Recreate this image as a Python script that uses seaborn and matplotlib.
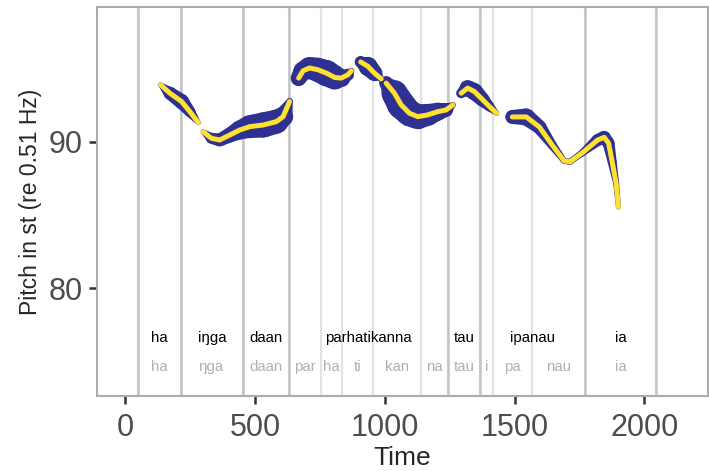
import numpy as np
import pandas as pd
import matplotlib.pyplot as plt
import seaborn as sns
from matplotlib.patches import Polygon
from matplotlib.transforms import IdentityTransform

# ==========================================
# DATA
# ==========================================

# pitch track (time in ms, pitch in st)
seg = [1] * 5 + [2] * 10 + [3] * 9 + [4] * 4 + [5] * 9 + [6] * 6 + [7] * 13
time = [136, 172, 217, 249, 281,
        300, 332, 364, 403, 441, 480, 531, 582, 608, 633,
        668, 685, 710, 742, 775, 807, 832, 858, 871,
        907, 935, 960, 986,
        1005, 1037, 1063, 1095, 1127, 1165, 1204, 1236, 1262,
        1294, 1319, 1345, 1377, 1403, 1431,
        1491, 1545, 1595, 1645, 1690, 1712, 1760, 1820, 1845, 1862, 1876, 1891, 1900]
pitch = [93.88, 93.31, 92.74, 92.05, 91.30,
         90.68, 90.23, 90.12, 90.46, 90.80, 91.03, 91.14, 91.37, 91.71, 92.74,
         94.34, 94.84, 95.03, 94.91, 94.68, 94.38, 94.34, 94.57, 94.84,
         95.44, 95.14, 94.68, 94.29,
         94.00, 93.31, 92.51, 91.94, 91.71, 91.83, 92.05, 92.17, 92.51,
         93.31, 93.66, 93.42, 92.86, 92.40, 91.94,
         91.69, 91.69, 91.01, 89.77, 88.70, 88.62, 89.23, 90.12, 90.30, 89.90,
         88.61, 87.17, 85.55]
intensity = [5, 13, 15, 11, 5,
             5, 11, 13, 15, 19, 23, 25, 24, 20, 7,
             16, 19, 22, 24, 26, 24, 18, 12, 6,
             12, 19, 16, 6,
             14, 26, 28, 26, 25, 22, 18, 14, 6,
             10, 16, 17, 14, 10, 5,
             14, 17, 14, 9, 6, 6, 7, 12, 13, 12, 9, 6, 5]

# word and syllable boundaries (ms)
words = ["ha", "iŋga", "daan", "parhatikanna", "tau", "ipanau", "ia"]
word_bounds = [49, 215, 453, 631, 1243, 1366, 1771, 2045]
syllables = ["ha", "ŋga", "daan", "par", "ha", "ti", "kan", "na",
             "tau", "i", "pa", "nau", "ia"]
syll_bounds = [49, 215, 453, 631, 753, 834, 954, 1139, 1243,
               1366, 1416, 1567, 1771, 2045]

df = pd.DataFrame({"seg": seg, "time": time, "pitch": pitch, "intensity": intensity})

# ==========================================
# STYLE
# ==========================================

BLUE = "#2E3192"
YELLOW = "#FDE030"
DPI = 100

sns.set_theme(style="white")
plt.rcParams["font.family"] = ["Liberation Sans", "DejaVu Sans"]

fig = plt.figure(figsize=(7.09, 4.71), dpi=DPI)
ax = fig.add_axes([0.1368, 0.1592, 0.8618, 0.8259])
ax.set_xlim(-109, 2245)
ax.set_ylim(72.65, 99.19)

# ==========================================
# BOUNDARIES + LABELS
# ==========================================

for b in syll_bounds:
    ax.axvline(b, color="#E3E3E3", lw=1.6, zorder=1)
for b in word_bounds:
    ax.axvline(b, color="#C4C4C4", lw=1.8, zorder=1)

for i, w in enumerate(words):
    mid = (word_bounds[i] + word_bounds[i + 1]) / 2
    ax.text(mid, 76.6, w, ha="center", va="center", fontsize=10.8, color="black")
for i, s in enumerate(syllables):
    mid = (syll_bounds[i] + syll_bounds[i + 1]) / 2
    ax.text(mid, 74.65, s, ha="center", va="center", fontsize=10.8, color="#B0B0B0")

# ==========================================
# PITCH TRACK (blue: width ~ intensity, yellow: f0 line)
# ==========================================

def width_px(v):
    return np.interp(v, [5, 28], [5, 28])


for _, g in df.groupby("seg"):
    P = ax.transData.transform(g[["time", "pitch"]].to_numpy())
    r = width_px(g["intensity"].to_numpy()) / 2
    for i in range(len(P) - 1):
        d = P[i + 1] - P[i]
        n = np.array([-d[1], d[0]]) / np.hypot(*d)
        quad = [P[i] + n * r[i], P[i + 1] + n * r[i + 1],
                P[i + 1] - n * r[i + 1], P[i] - n * r[i]]
        ax.add_patch(Polygon(quad, closed=True, transform=IdentityTransform(),
                             facecolor=BLUE, edgecolor="none", zorder=2))
    ax.scatter(g["time"], g["pitch"], s=(2 * r * 72 / DPI) ** 2,
               color=BLUE, linewidths=0, zorder=2)

sns.lineplot(data=df, x="time", y="pitch", units="seg", estimator=None, sort=False,
             color=YELLOW, lw=3.6, solid_capstyle="round", solid_joinstyle="round",
             zorder=3, ax=ax)

# ==========================================
# AXES
# ==========================================

ax.set_xlim(-109, 2245)
ax.set_ylim(72.65, 99.19)
ax.set_xticks([0, 500, 1000, 1500, 2000])
ax.set_yticks([80, 90])
ax.tick_params(axis="both", labelsize=22, labelcolor="#4D4D4D", color="#333333",
               length=6, width=1.8, direction="out", bottom=True, left=True)
ax.tick_params(axis="x", pad=6)
ax.tick_params(axis="y", pad=4)
for sp in ax.spines.values():
    sp.set_color("#ABABAB")
    sp.set_linewidth(1.5)

ax.set_xlabel("Time", fontsize=19, labelpad=2.5)
ax.set_ylabel("Pitch in st (re 0.51 Hz)", fontsize=16.5, labelpad=5)

fig.savefig("out.png", dpi=DPI)
